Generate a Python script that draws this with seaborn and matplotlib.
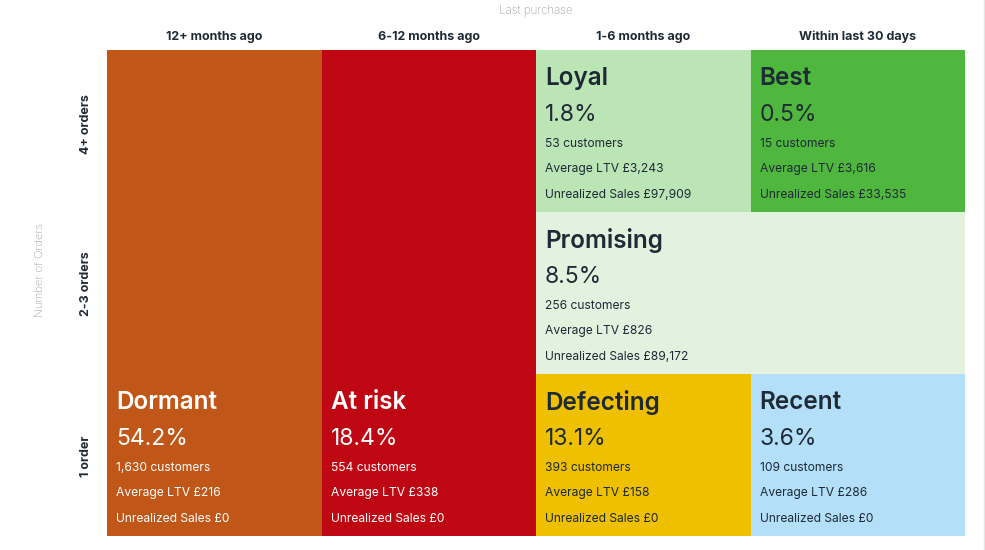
import matplotlib
matplotlib.use("Agg")
import matplotlib.pyplot as plt
import seaborn as sns

# columns (last purchase) and rows (number of orders, bottom to top)
recency = ["12+ months ago", "6-12 months ago", "1-6 months ago", "Within last 30 days"]
orders = ["1 order", "2-3 orders", "4+ orders"]

segments = ["Dormant", "At risk", "Loyal", "Best", "Promising", "Defecting", "Recent"]
share = [54.2, 18.4, 1.8, 0.5, 8.5, 13.1, 3.6]
customers = ["1,630", "554", "53", "15", "256", "393", "109"]
avg_ltv = ["216", "338", "3,243", "3,616", "826", "158", "286"]
unrealized = ["0", "0", "97,909", "33,535", "89,172", "0", "0"]
# grid cells each segment covers: first column, column span, first row, row span
col0 = [0, 1, 2, 3, 2, 2, 3]
ncol = [1, 1, 1, 1, 2, 1, 1]
row0 = [0, 0, 2, 2, 1, 0, 0]
nrow = [3, 3, 1, 1, 1, 1, 1]

colors = ["#C05618", "#BE0712", "#BCE5B6", "#50B73E", "#E2F2DF", "#EEC000", "#B3E0F8"]
light_text = [True, True, False, False, False, False, False]
dark = "#1E2A36"
grey = "#A0A4A8"

sns.set_style("white")
plt.rcParams["font.family"] = ["Inter", "DejaVu Sans"]

fig = plt.figure(figsize=(9.85, 5.5), dpi=100)
ax = fig.add_axes([107 / 985, 14 / 550, 858 / 985, 486 / 550])

ax.bar(col0, nrow, width=ncol, bottom=row0, align="edge", color=colors, linewidth=0)
ax.set_xlim(0, 4)
ax.set_ylim(0, 3)

for i, name in enumerate(segments):
    tc = "white" if light_text[i] else dark
    # text sits at the top of the lowest row of the block
    anchor = (col0[i], row0[i] + 1)
    lines = [
        (name, 20.5, 17.5, "semibold"),
        (f"{share[i]}%", 47, 16.5, "normal"),
        (f"{customers[i]} customers", 67.5, 8.7, "normal"),
        (f"Average LTV £{avg_ltv[i]}", 85.5, 8.7, "normal"),
        (f"Unrealized Sales £{unrealized[i]}", 104.3, 8.7, "normal"),
    ]
    for txt, dy, size, weight in lines:
        ax.annotate(txt, xy=anchor, xytext=(6.5, -dy), textcoords="offset points",
                    ha="left", va="center", fontsize=size, fontweight=weight, color=tc)

ax.xaxis.tick_top()
ax.xaxis.set_label_position("top")
ax.set_xticks([c + 0.5 for c in range(len(recency))])
ax.set_xticklabels(recency, fontsize=9, fontweight="bold", color=dark)
ax.set_yticks([0.494, 1.56, 2.545])
ax.set_yticklabels(orders, fontsize=9, fontweight="bold", color=dark, rotation=90, va="center")
ax.tick_params(axis="x", length=0, pad=5)
ax.tick_params(axis="y", length=0, pad=11)

ax.set_xlabel("Last purchase", fontsize=8.3, color=grey, fontweight="light", labelpad=12)
ax.set_ylabel("Number of Orders", fontsize=8.2, color=grey, fontweight="light",
              labelpad=25, y=0.547)

sns.despine(ax=ax, left=True, bottom=True)
for s in ax.spines.values():
    s.set_visible(False)

fig.add_artist(plt.Line2D([983.5 / 985, 983.5 / 985], [0, 1], color="#E4E4E4", linewidth=1))

fig.savefig("out.png", dpi=100)
